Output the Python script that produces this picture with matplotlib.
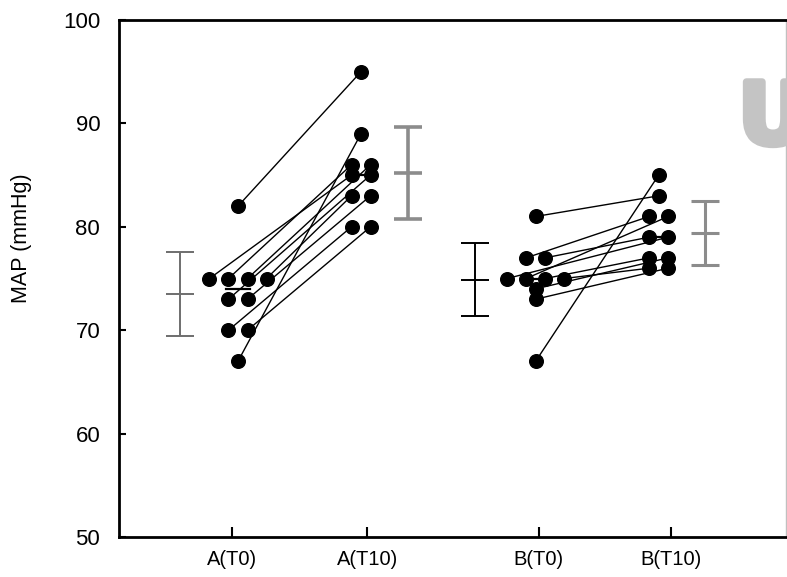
import numpy as np
import matplotlib
matplotlib.use('Agg')
import matplotlib.pyplot as plt
import matplotlib.patheffects as pe

plt.rcParams['font.family'] = ['Liberation Sans', 'DejaVu Sans']

# MAP (mmHg) per subject, before (T0) and after (T10)
a_t0 = [82, 75, 75, 75, 75, 73, 73, 70, 70, 67]
a_t10 = [95, 85, 86, 86, 83, 85, 83, 80, 80, 89]
b_t0 = [81, 77, 77, 75, 75, 75, 75, 74, 73, 67]
b_t10 = [83, 81, 79, 79, 81, 77, 76, 77, 76, 85]

groups = ['A(T0)', 'A(T10)', 'B(T0)', 'B(T10)']
col_x = [1.0, 2.0, 3.42, 4.42]          # dot columns
tick_x = [0.95, 2.05, 3.445, 4.52]      # axis ticks
bar_shift = [-0.472, 0.382, -0.493, 0.377]
bar_colors = ['#6e6e6e', '#8c8c8c', 'black', '#8c8c8c']
bar_widths = [1.4, 2.6, 1.4, 2.2]

DOT_STEP = 0.1545


def spread(values, center):
    # equal values sit side by side, centred on the column
    values = np.asarray(values)
    xs = np.zeros(len(values))
    for v in np.unique(values):
        idx = np.where(values == v)[0]
        n = len(idx)
        for k, i in enumerate(idx):
            xs[i] = center + (k - (n - 1) / 2) * DOT_STEP
    return xs


fig = plt.figure(figsize=(7.87, 5.77), dpi=100)
ax = fig.add_axes([0.1512, 0.0693, 0.8475, 0.896])

pairs = [(a_t0, a_t10, 0, 1), (b_t0, b_t10, 2, 3)]
for before, after, i0, i1 in pairs:
    x0 = spread(before, col_x[i0])
    x1 = spread(after, col_x[i1])
    for xa, ya, xb, yb in zip(x0, before, x1, after):
        ax.plot([xa, xb], [ya, yb], color='black', lw=1.0, zorder=2)
    for xs, ys in ((x0, before), (x1, after)):
        ax.plot(xs, ys, 'o', color='black', markersize=9.8, zorder=4)

all_cols = [a_t0, a_t10, b_t0, b_t10]
for i, vals in enumerate(all_cols):
    vals = np.asarray(vals, dtype=float)
    # median as a short bar across the column
    med = np.median(vals)
    ax.plot([col_x[i] - 0.1, col_x[i] + 0.1], [med, med], color='black',
            lw=1.6, zorder=3)
    # mean ± SD beside the column
    ax.errorbar(col_x[i] + bar_shift[i], vals.mean(), yerr=vals.std(ddof=1),
                fmt='_', markersize=20, mew=bar_widths[i],
                color=bar_colors[i], ecolor=bar_colors[i],
                elinewidth=bar_widths[i], capsize=10,
                capthick=bar_widths[i], zorder=3)

ax.set_xlim(0.0325, 5.455)
ax.set_ylim(50, 100)
ax.set_yticks(np.arange(50, 101, 10))
ax.set_xticks(tick_x)
ax.set_xticklabels(groups)

for side in ('left', 'bottom', 'top'):
    ax.spines[side].set_linewidth(2.0)
ax.spines['right'].set_color('#c0c0c0')
ax.spines['right'].set_linewidth(1.0)

ax.tick_params(axis='y', direction='in', length=5, width=1.5,
               labelsize=16, pad=13.5)
ax.tick_params(axis='x', direction='in', length=7, width=1.5,
               labelsize=14.5, pad=9.5)
ax.set_ylabel('MAP (mmHg)', fontsize=15.5)
ax.yaxis.set_label_coords(-0.13, 0.578)

# grey letter in the upper right corner
fig.text(0.9384, 0.7513, 'U', fontsize=61, fontweight='bold',
         family='DejaVu Sans', color='#c4c4c4', ha='left', va='baseline',
         path_effects=[pe.Stroke(linewidth=5, foreground='#c4c4c4'),
                       pe.Normal()])

fig.savefig('out.png', dpi=100)
